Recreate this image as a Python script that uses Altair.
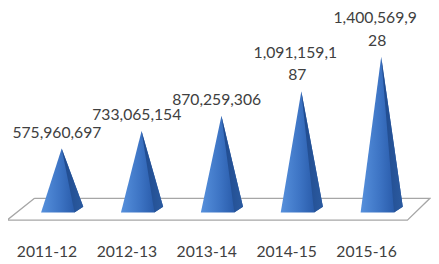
import altair as alt
import pandas as pd

# ---- data ----
categories = ["2011-12", "2012-13", "2013-14", "2014-15", "2015-16"]
values = [575960697, 733065154, 870259306, 1091159187, 1400569928]

# pyramid shape (in x-index units / y data units)
HALF_L, FRONT_R, BACK_R, BACK_H = 0.258, 0.16, 0.27, 53e6
WRAP = 11  # label wraps after this many characters

sil_rows, dark_rows, last_rows, first_rows, cat_rows = [], [], [], [], []
for i, (c, v) in enumerate(zip(categories, values)):
    yi = v + (BACK_H - v) * FRONT_R / BACK_R
    sil_rows += [
        dict(cat=c, x=i - HALF_L, y=0, y2=0),
        dict(cat=c, x=i, y=v, y2=0),
        dict(cat=c, x=i + FRONT_R, y=yi, y2=0),
        dict(cat=c, x=i + BACK_R, y=BACK_H, y2=BACK_H),
    ]
    dark_rows += [
        dict(cat=c, x=i, y=v, y2=v),
        dict(cat=c, x=i + FRONT_R, y=yi, y2=0),
        dict(cat=c, x=i + BACK_R, y=BACK_H, y2=BACK_H),
    ]
    s = f"{v:,}"
    if len(s) > WRAP:
        first_rows.append(dict(cat=c, x=i - 0.075, y=v, text=s[:WRAP]))
        last_rows.append(dict(cat=c, x=i - 0.05, y=v, text=s[WRAP:]))
    else:
        last_rows.append(dict(cat=c, x=i - 0.06, y=v, text=s))
    cat_rows.append(dict(cat=c, x=i - 0.184, text=c))

n = len(categories)
floor_rows = [
    dict(o=0, x=-0.340, y=128e6),
    dict(o=1, x=n - 1 + 0.610, y=128e6),
    dict(o=2, x=n - 1 + 0.328, y=-68e6),
    dict(o=3, x=-0.684, y=-68e6),
    dict(o=4, x=-0.340, y=128e6),
]

xs = alt.Scale(domain=[-0.672, 4.525], nice=False, zero=False)
ys = alt.Scale(domain=[-370.7e6, 1818.2e6], nice=False, zero=False)
X = alt.X("x:Q", scale=xs, axis=None)
Y = alt.Y("y:Q", scale=ys, axis=None)

floor = alt.Chart(pd.DataFrame(floor_rows)).mark_line(
    color="#a6a6a6", strokeWidth=1.3
).encode(x=X, y=Y, order="o:Q")

front_grad = alt.LinearGradient(
    gradient="linear", x1=0, x2=1, y1=0, y2=0,
    stops=[alt.GradientStop(offset=0, color="#5690dc"),
           alt.GradientStop(offset=0.45, color="#3d74c4"),
           alt.GradientStop(offset=0.75, color="#2c5fae"),
           alt.GradientStop(offset=1, color="#2c5fae")],
)
dark_grad = alt.LinearGradient(
    gradient="linear", x1=0, x2=1, y1=0, y2=0,
    stops=[alt.GradientStop(offset=0, color="#1f4a8e"),
           alt.GradientStop(offset=1, color="#2b5a9f")],
)

sil = alt.Chart(pd.DataFrame(sil_rows)).mark_area(color=front_grad).encode(
    x=X, y=Y, y2="y2:Q", detail="cat:N"
)
dark = alt.Chart(pd.DataFrame(dark_rows)).mark_area(color=dark_grad).encode(
    x=X, y=Y, y2="y2:Q", detail="cat:N"
)

txt = dict(font="Lato", fontSize=16, color="#404040", baseline="middle", align="center")
labels_last = alt.Chart(pd.DataFrame(last_rows)).mark_text(dy=-16, **txt).encode(
    x=X, y=Y, text="text:N"
)
labels_first = alt.Chart(pd.DataFrame(first_rows)).mark_text(dy=-39, **txt).encode(
    x=X, y=Y, text="text:N"
)

cats = alt.Chart(pd.DataFrame(cat_rows)).mark_text(**txt).encode(
    x=X, y=alt.Y(datum=-357e6, scale=ys, axis=None), text="text:N"
)

chart = alt.layer(floor, sil, dark, labels_last, labels_first, cats).properties(
    width=423, height=248,
    autosize=alt.AutoSizeParams(type="none"),
    padding={"left": 0, "top": 0, "right": 8, "bottom": 8},
    background="white",
).configure_view(stroke=None)

chart.save("out.html", embed_options={"renderer": "svg", "actions": False})
